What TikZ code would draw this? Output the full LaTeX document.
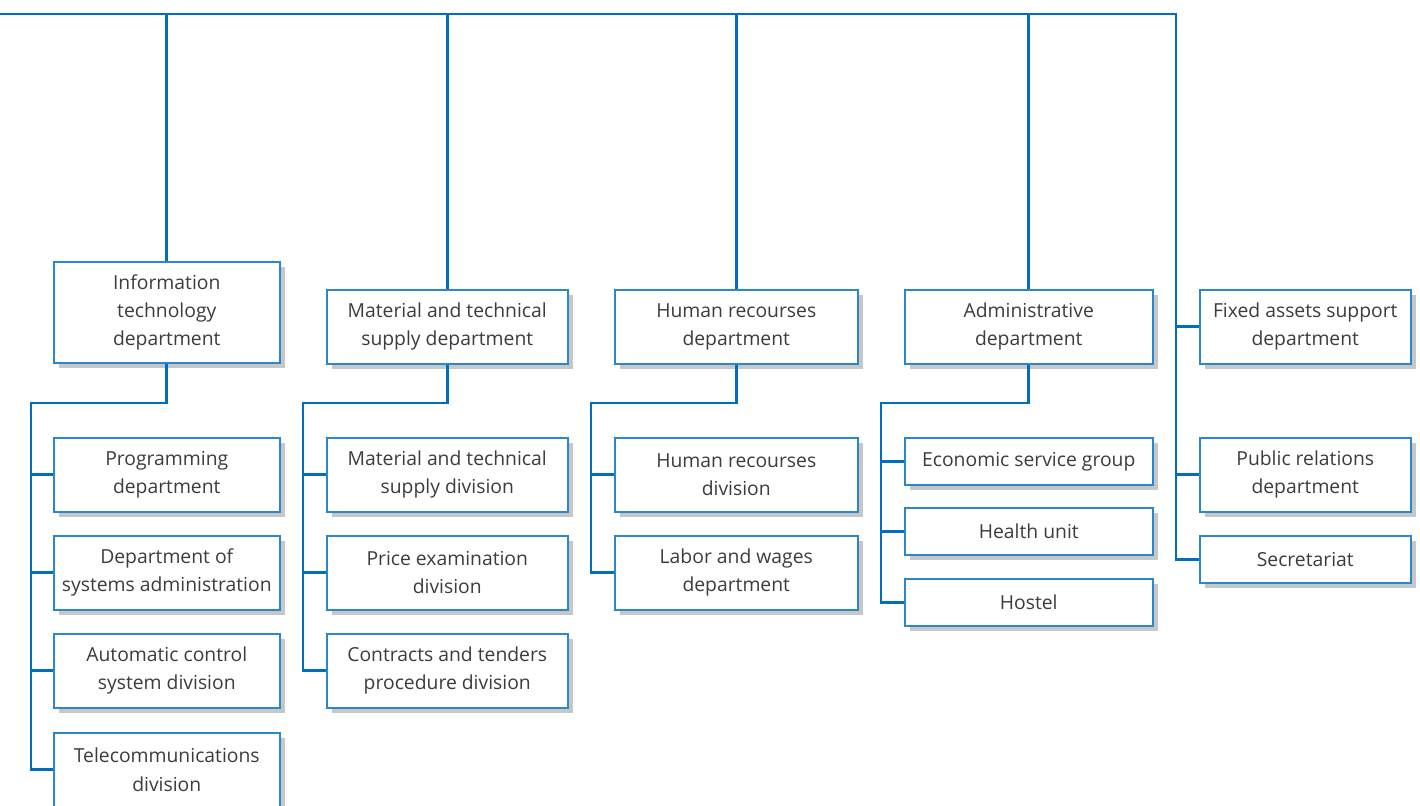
\documentclass[tikz,border=0pt]{standalone}
\usepackage{fontspec}
\setmainfont{Open Sans}
\usetikzlibrary{shadows}
\definecolor{wireblue}{RGB}{0,110,192}
\definecolor{boxblue}{RGB}{40,135,205}
\definecolor{txtgray}{RGB}{60,60,60}

\begin{document}
\begin{tikzpicture}[x=0.02cm,y=-0.02cm,
    wire/.style={draw=wireblue,line width=1.6pt},
    unit/.style={draw=boxblue,line width=0.9pt,fill=white,text=txtgray,align=center,
        inner sep=0pt,anchor=north west,font=\fontsize{11}{16}\selectfont,
        drop shadow={shadow xshift=0.1cm,shadow yshift=-0.1cm,fill=black!22,opacity=1}},
    tall/.style={minimum height=2.02cm},
    mid/.style={minimum height=1.48cm},
    low/.style={minimum height=0.94cm}]
            \useasboundingbox (0,0) rectangle (1420,805);

            \node[unit,tall,minimum width=4.52cm] (it) at (53,261) {Information\\technology\\department};
            \node[unit,mid,minimum width=4.52cm] (it1) at (53,437) {Programming\\department};
            \node[unit,mid,minimum width=4.52cm] (it2) at (53,535) {Department of\\systems administration};
            \node[unit,mid,minimum width=4.52cm] (it3) at (53,633) {Automatic control\\system division};
            \node[unit,mid,minimum width=4.52cm] (it4) at (53,732) {Telecommunications\\division};

            \node[unit,mid,minimum width=4.82cm] (mts) at (326,289) {Material and technical\\supply department};
            \node[unit,mid,minimum width=4.82cm] (mts1) at (326,437) {Material and technical\\supply division};
            \node[unit,mid,minimum width=4.82cm] (mts2) at (326,535) {Price examination\\division};
            \node[unit,mid,minimum width=4.82cm] (mts3) at (326,633) {Contracts and tenders\\procedure division};

            \node[unit,mid,minimum width=4.86cm] (hr) at (614,289) {Human recourses\\department};
            \node[unit,mid,minimum width=4.86cm] (hr1) at (614,437) {Human recourses\\division};
            \node[unit,mid,minimum width=4.86cm] (hr2) at (614,535) {Labor and wages\\department};

            \node[unit,mid,minimum width=4.96cm] (adm) at (904,289) {Administrative\\department};
            \node[unit,low,minimum width=4.96cm] (adm1) at (904,437) {Economic service group};
            \node[unit,low,minimum width=4.96cm] (adm2) at (904,507) {Health unit};
            \node[unit,low,minimum width=4.96cm] (adm3) at (904,578) {Hostel};

            \node[unit,mid,minimum width=4.22cm] (fa) at (1199,289) {Fixed assets support\\department};
            \node[unit,mid,minimum width=4.22cm] (pr) at (1199,437) {Public relations\\department};
            \node[unit,low,minimum width=4.22cm] (sec) at (1199,535) {Secretariat};

            \coordinate (top) at (0,14);
            \coordinate (topend) at (1176,14);
            \draw[wire] (top) -- (topend) |- (sec.west);
            \foreach \d in {it,mts,hr,adm} {
                \draw[wire] (top -| \d.north) -- (\d.north);
            }
            \foreach \d in {fa,pr} {
                \draw[wire] (topend |- \d.west) -- (\d.west);
            }

            \coordinate (itbus) at (31,403);
            \coordinate (mtsbus) at (303,403);
            \coordinate (hrbus) at (591,403);
            \coordinate (admbus) at (881,403);
            \foreach \d\last in {it/it4, mts/mts3, hr/hr2, adm/adm3} {
                \draw[wire] (\d.south) |- (\d bus) |- (\last.west);
            }
            \foreach \d\c in {it/it1, it/it2, it/it3, mts/mts1, mts/mts2, hr/hr1, adm/adm1, adm/adm2} {
                \draw[wire] (\d bus |- \c.west) -- (\c.west);
            }
        \end{tikzpicture}
\end{document}
